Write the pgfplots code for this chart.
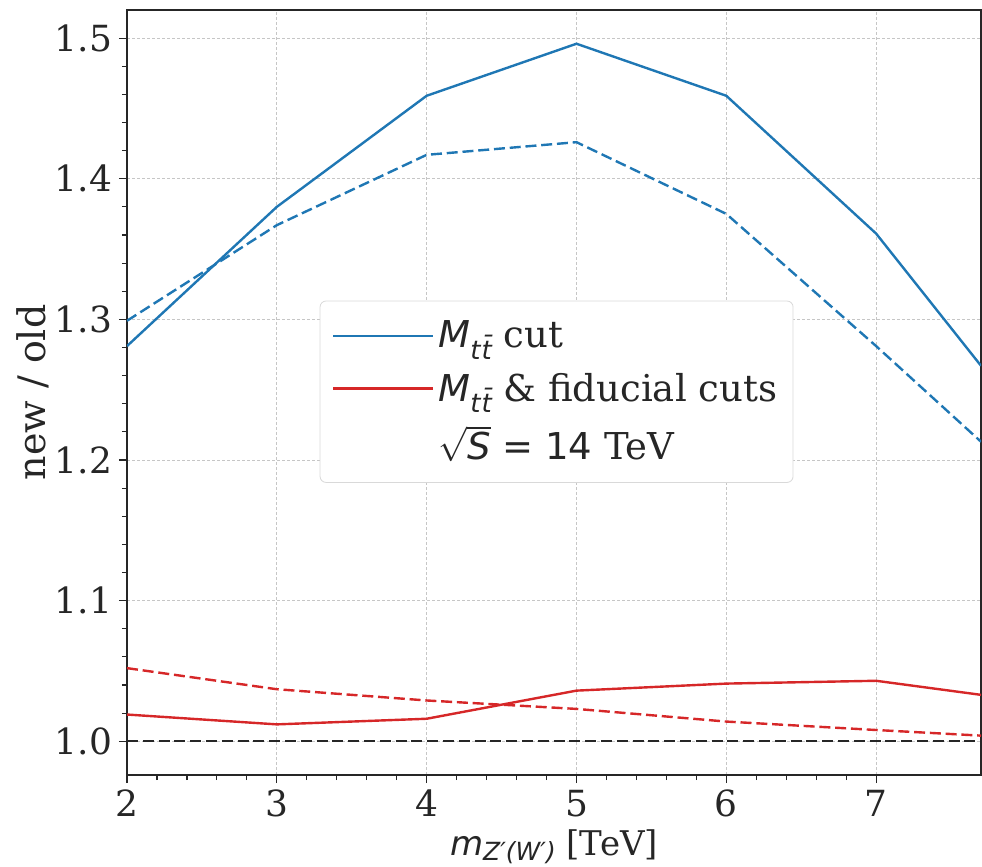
\documentclass[border=0pt]{standalone}
\usepackage{fontspec}
\setmainfont{DejaVu Serif}
\newfontfamily\dvs{DejaVu Sans}
\usepackage{pgfplots}
\pgfplotsset{compat=1.18}
\usetikzlibrary{calc}

\definecolor{tabblue}{HTML}{1F77B4}
\definecolor{tabred}{HTML}{D62728}
\definecolor{txt}{HTML}{262626}

% M_{t tbar} as matplotlib mathtext draws it
\newcommand{\Mtt}{{\dvs\itshape M}\raisebox{-0.3em}{\dvs\itshape\fontsize{13}{13}\selectfont t\kern0.5pt\=t}}

\begin{document}
\begin{tikzpicture}
\begin{axis}[
    scale only axis,
    width=427pt, height=382.5pt,
    xmin=2, xmax=7.7,
    ymin=0.976, ymax=1.52,
    xtick={2,3,4,5,6,7},
    ytick={1.0,1.1,1.2,1.3,1.4,1.5},
    minor x tick num=4,
    minor y tick num=4,
    yticklabel style={/pgf/number format/.cd, fixed, fixed zerofill, precision=1},
    /pgf/number format/assume math mode=true,
    tick align=outside,
    tick pos=left,
    major tick length=4pt,
    minor tick length=2.5pt,
    tick style={txt, line width=0.6pt},
    axis line style={txt, line width=0.6pt},
    grid=major,
    grid style={gray!45, dash pattern=on 1.5pt off 1pt, line width=0.4pt},
    ticklabel style={font=\fontsize{18}{22}\selectfont, text=txt},
    xlabel={{\dvs\itshape m}\raisebox{-0.15em}{\dvs\itshape\fontsize{12.5}{13}\selectfont Z′(W′)} [TeV]},
    xlabel style={at={(axis description cs:0.5,-0.1046)}, anchor=base,
        font=\fontsize{17}{20}\selectfont, text=txt},
    ylabel={new / old},
    ylabel style={at={(axis description cs:-0.110,0.5)}, anchor=center,
        font=\fontsize{19}{22}\selectfont, text=txt},
    legend style={
        at={(0.503,0.501)}, anchor=center,
        draw=gray!30, rounded corners=3pt, fill=white,
        font=\fontsize{18.5}{22}\selectfont, text=txt,
        row sep=7pt, inner xsep=6pt, inner ysep=8pt,
    },
    legend cell align=left,
    legend image code/.code={
        \draw[#1] (0pt,0pt) -- (38pt,0pt);
        \path (0pt,0pt) -- (50pt,0pt);
    },
]
% blue: M_tt cut
\addplot[tabblue, line width=1.2pt] coordinates {
    (2,1.281) (3,1.380) (4,1.459) (5,1.496) (6,1.459) (7,1.361) (7.7,1.267)
};
\addlegendentry{\Mtt\ cut}
\addplot[tabblue, line width=1.2pt, dash pattern=on 5.5pt off 2.4pt, forget plot] coordinates {
    (2,1.299) (3,1.367) (4,1.417) (5,1.426) (6,1.375) (7,1.281) (7.7,1.213)
};
% red: M_tt & fiducial cuts
\addplot[tabred, line width=1.2pt] coordinates {
    (2,1.019) (3,1.012) (4,1.016) (5,1.036) (6,1.041) (7,1.043) (7.7,1.033)
};
\addlegendentry{\Mtt\ \& fiducial cuts}
\addplot[tabred, line width=1.2pt, dash pattern=on 5.5pt off 2.4pt, forget plot] coordinates {
    (2,1.052) (3,1.037) (4,1.029) (5,1.023) (6,1.014) (7,1.008) (7.7,1.004)
};
% reference line
\addplot[txt, line width=1.2pt, dash pattern=on 5.5pt off 2.4pt, forget plot] coordinates {
    (2,1.0) (7.7,1.0)
};
\addlegendimage{empty legend}
\addlegendentry{$\sqrt{\hbox{\dvs\itshape S}}${\dvs\ =\ 14} TeV}
\end{axis}
\pgfresetboundingbox
\path ($(current axis.south west)+(-63.5pt,-45.5pt)$) rectangle ($(current axis.north east)+(0.5pt,5pt)$);
\end{tikzpicture}
\end{document}
